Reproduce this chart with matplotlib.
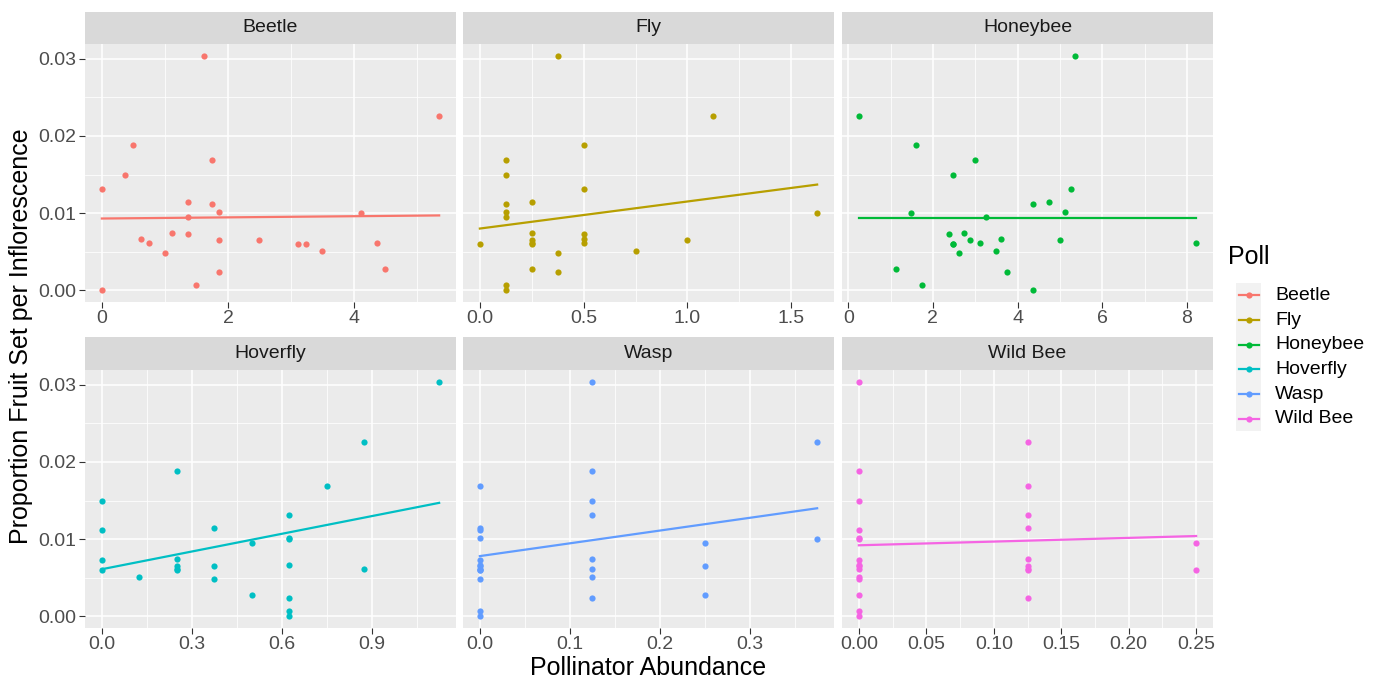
import numpy as np
import matplotlib
matplotlib.use("Agg")
import matplotlib.pyplot as plt
from matplotlib.ticker import MultipleLocator, FormatStrFormatter

plt.rcParams['font.family'] = ['Liberation Sans', 'DejaVu Sans']

# proportion fruit set per inflorescence (same observations in every panel)
fruit_set = [0.0304, 0.02255, 0.01887, 0.01693, 0.01498, 0.01316, 0.01147, 0.01117,
             0.01017, 0.01004, 0.00948, 0.0074, 0.00727, 0.00667, 0.00654, 0.00654,
             0.0061, 0.0061, 0.00597, 0.00597, 0.00515, 0.00485, 0.00277, 0.00234,
             0.00065, 0.0]

# pollinator abundance per group, aligned with fruit_set
beetle = [1.62, 5.35, 0.50, 1.74, 0.36, 0.0, 1.36, 1.74, 1.86, 4.11, 1.36, 1.12, 1.36,
          0.62, 1.86, 2.50, 0.74, 4.36, 3.11, 3.24, 3.49, 1.0, 4.49, 1.86, 1.50, 0.0]
fly = [0.375, 1.125, 0.5, 0.125, 0.125, 0.5, 0.25, 0.125, 0.125, 1.625, 0.125, 0.25, 0.5,
       0.5, 0.25, 1.0, 0.5, 0.25, 0.25, 0.0, 0.75, 0.375, 0.25, 0.375, 0.125, 0.125]
honeybee = [5.36, 0.25, 1.61, 3.0, 2.48, 5.26, 4.74, 4.36, 5.12, 1.49, 3.26, 2.74, 2.38,
            3.61, 2.87, 5.0, 3.12, 8.22, 2.48, 2.48, 3.49, 2.61, 1.12, 3.75, 1.75, 4.36]
hoverfly = [1.125, 0.875, 0.25, 0.75, 0.0, 0.625, 0.375, 0.0, 0.625, 0.625, 0.5, 0.25, 0.0,
            0.625, 0.375, 0.25, 0.875, 0.25, 0.0, 0.25, 0.125, 0.375, 0.5, 0.625, 0.625, 0.625]
wasp = [0.125, 0.375, 0.125, 0.0, 0.125, 0.125, 0.0, 0.0, 0.0, 0.375, 0.25, 0.125, 0.0,
        0.0, 0.0, 0.25, 0.0, 0.125, 0.0, 0.0, 0.125, 0.0, 0.25, 0.125, 0.0, 0.0]
wild_bee = [0.0, 0.125, 0.0, 0.125, 0.0, 0.125, 0.125, 0.0, 0.0, 0.0, 0.25, 0.125, 0.0,
            0.0, 0.0, 0.125, 0.0, 0.125, 0.125, 0.25, 0.0, 0.0, 0.0, 0.125, 0.0, 0.0]

groups = ["Beetle", "Fly", "Honeybee", "Hoverfly", "Wasp", "Wild Bee"]
abundance = [beetle, fly, honeybee, hoverfly, wasp, wild_bee]
# fitted (lm) line values at the lowest and highest abundance
fit_start = [0.0093, 0.0080, 0.0094, 0.0061, 0.0078, 0.0092]
fit_end = [0.0097, 0.0137, 0.0094, 0.0147, 0.0140, 0.0104]
colors = ["#F8766D", "#B79F00", "#00BA38", "#00BFC4", "#619CFF", "#F564E3"]
x_major = [2, 0.5, 2, 0.3, 0.1, 0.05]
x_fmt = ["%.0f", "%.1f", "%.0f", "%.1f", "%.1f", "%.2f"]

W, H = 1386, 687
fig = plt.figure(figsize=(W / 100, H / 100), dpi=100)


def box(l, t, w, h):
    return [l / W, 1 - (t + h) / H, w / W, h / H]


lefts = [85, 463, 842]
panel_tops = [44, 370]
strip_tops = [12, 337]
pw, ph = 371, 258

y = np.array(fruit_set)
ylo, yhi = y.min(), y.max()
yr = (ylo - 0.05 * (yhi - ylo), yhi + 0.05 * (yhi - ylo))

for i, name in enumerate(groups):
    r, c = divmod(i, 3)
    x = np.array(abundance[i])
    ax = fig.add_axes(box(lefts[c], panel_tops[r], pw, ph))
    ax.set_facecolor("#EBEBEB")
    for s in ax.spines.values():
        s.set_visible(False)
    ax.set_axisbelow(True)

    ax.scatter(x, y, s=20, color=colors[i], linewidths=0, zorder=3)
    ax.plot([x.min(), x.max()], [fit_start[i], fit_end[i]], color=colors[i], lw=1.6,
            zorder=2)

    xlo, xhi = x.min(), x.max()
    ax.set_xlim(xlo - 0.05 * (xhi - xlo), xhi + 0.05 * (xhi - xlo))
    ax.set_ylim(*yr)
    ax.xaxis.set_major_locator(MultipleLocator(x_major[i]))
    ax.xaxis.set_minor_locator(MultipleLocator(x_major[i] / 2))
    ax.xaxis.set_major_formatter(FormatStrFormatter(x_fmt[i]))
    ax.yaxis.set_major_locator(MultipleLocator(0.01))
    ax.yaxis.set_minor_locator(MultipleLocator(0.005))
    ax.yaxis.set_major_formatter(FormatStrFormatter("%.2f"))
    ax.grid(which="major", color="white", lw=1.1)
    ax.grid(which="minor", color="white", lw=0.55)
    ax.tick_params(which="major", length=4, width=0.8, color="#333333",
                   labelsize=14, labelcolor="#4D4D4D", pad=2)
    ax.tick_params(which="minor", length=0)
    if c != 0:
        ax.tick_params(axis="y", which="major", length=0, labelleft=False)

    sx = fig.add_axes(box(lefts[c], strip_tops[r], pw, panel_tops[r] - strip_tops[r]))
    sx.set_facecolor("#D9D9D9")
    sx.set_xticks([])
    sx.set_yticks([])
    for s in sx.spines.values():
        s.set_visible(False)
    sx.text(0.5, 0.5, name, ha="center", va="center", fontsize=14, color="#1A1A1A",
            transform=sx.transAxes)

fig.text(648 / W, 1 - 668 / H, "Pollinator Abundance", ha="center", va="center",
         fontsize=18)
fig.text(21 / W, 1 - 336 / H, "Proportion Fruit Set per Inflorescence", ha="center",
         va="center", rotation=90, fontsize=18)

# legend
fig.text(1228 / W, 1 - 257 / H, "Poll", ha="left", va="center", fontsize=18)
lg = fig.add_axes(box(1236, 283, 25, 148))
lg.set_facecolor("#F2F2F2")
lg.set_xlim(0, 1)
lg.set_ylim(len(groups), 0)
lg.set_xticks([])
lg.set_yticks([])
for s in lg.spines.values():
    s.set_visible(False)
for j, name in enumerate(groups):
    lg.plot([0.1, 0.9], [j + 0.5, j + 0.5], color=colors[j], lw=1.6)
    lg.scatter([0.5], [j + 0.5], s=20, color=colors[j], linewidths=0)
    fig.text(1275 / W, 1 - (283 + 148 * (j + 0.5) / len(groups)) / H, name,
             ha="left", va="center", fontsize=14)

fig.savefig("out.png", dpi=100)
